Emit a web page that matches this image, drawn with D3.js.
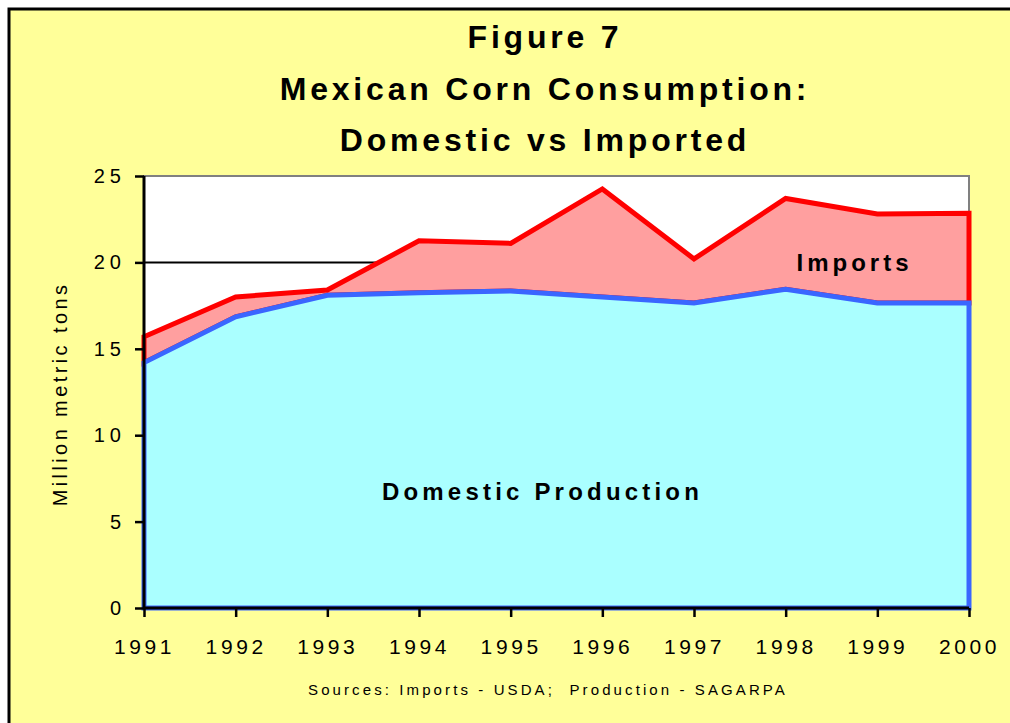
<!DOCTYPE html>
<html>
<head>
<meta charset="utf-8">
<script src="https://cdn.jsdelivr.net/npm/d3@7"></script>
<style>
  body { margin: 0; background: #fff; }
  svg { display: block; font-family: "Liberation Sans", Arial, sans-serif; }
</style>
</head>
<body>
<svg id="chart" width="1010" height="723"></svg>
<script>
const years = [1991, 1992, 1993, 1994, 1995, 1996, 1997, 1998, 1999, 2000];
// million metric tons
const domestic = [14.2, 16.85, 18.1, 18.25, 18.35, 18.0, 17.65, 18.45, 17.65, 17.65];
const imports  = [1.5, 1.15, 0.3, 3.0, 2.75, 6.25, 2.55, 5.25, 5.15, 5.2];
const yTicks = [0, 5, 10, 15, 20, 25];
const titleLines = ["Figure 7", "Mexican Corn Consumption:", "Domestic vs Imported"];

const svg = d3.select('#chart');
const W = 1010, H = 723;

// background frame
svg.append('rect')
  .attr('x', 9).attr('y', 9)
  .attr('width', W + 20).attr('height', H + 20)
  .attr('fill', '#FFFF99')
  .attr('stroke', '#000')
  .attr('stroke-width', 3);

const margin = { top: 176, right: 41, bottom: 115, left: 144 };
const chartWidth = W - margin.left - margin.right;
const chartHeight = H - margin.top - margin.bottom;

const g = svg.append('g')
  .attr('transform', `translate(${margin.left},${margin.top})`);

const x = d3.scalePoint()
  .domain(years)
  .range([0, chartWidth]);

const y = d3.scaleLinear()
  .domain([0, 25])
  .range([chartHeight, 0]);

// plot area
g.append('rect')
  .attr('width', chartWidth)
  .attr('height', chartHeight)
  .attr('fill', '#fff')
  .attr('stroke', '#808080')
  .attr('stroke-width', 2);

// gridlines
g.selectAll('.grid')
  .data(yTicks.filter(d => d > 0 && d < 25))
  .enter()
  .append('line')
  .attr('x1', 0).attr('x2', chartWidth)
  .attr('y1', d => y(d)).attr('y2', d => y(d))
  .attr('stroke', '#000')
  .attr('stroke-width', 2);

const rows = years.map((yr, i) => ({ year: yr, domestic: domestic[i], imports: imports[i] }));
const stack = d3.stack().keys(['domestic', 'imports']);
const series = stack(rows);

const area = d3.area()
  .x(d => x(d.data.year))
  .y0(d => y(d[0]))
  .y1(d => y(d[1]));

const fills = { domestic: '#AAFFFF', imports: '#FF9F9F' };
const strokes = { domestic: '#3A66FF', imports: '#FF0000' };

// draw imports first so the blue outline sits on top
[series[1], series[0]].forEach(s => {
  g.append('path')
    .datum(s)
    .attr('d', d => area(d) + 'Z')
    .attr('fill', fills[s.key])
    .attr('stroke', strokes[s.key])
    .attr('stroke-width', 5)
    .attr('stroke-linejoin', 'miter');
});

// axes
const xAxis = d3.axisBottom(x).tickSize(9).tickPadding(22).tickFormat(d => d);
const yAxis = d3.axisLeft(y).tickValues(yTicks).tickSize(9).tickPadding(10);

const gx = g.append('g')
  .attr('transform', `translate(0,${chartHeight})`)
  .call(xAxis);
gx.select('.domain').attr('d', `M0,0H${chartWidth}`).attr('stroke-width', 3);
gx.selectAll('.tick line').attr('stroke-width', 2.5);
gx.selectAll('.tick text')
  .attr('fill', '#000')
  .style('font-size', '21px')
  .style('letter-spacing', '3.6px');

const gy = g.append('g').call(yAxis);
gy.select('.domain').attr('d', `M0,${chartHeight}V0`).attr('stroke-width', 3);
gy.selectAll('.tick line').attr('stroke-width', 2.5);
gy.selectAll('.tick text')
  .attr('fill', '#000')
  .style('font-size', '20px')
  .style('letter-spacing', '5px')
  .attr('dx', '1px');

// in-chart labels
g.append('text')
  .attr('x', (x(1995) + x(1996)) / 2 - 14)
  .attr('y', y(5) - 22)
  .attr('text-anchor', 'middle')
  .style('font-size', '24px')
  .style('font-weight', 'bold')
  .style('letter-spacing', '4.2px')
  .text('Domestic Production');

g.append('text')
  .attr('x', (x(1998) + x(1999)) / 2 + 23)
  .attr('y', y(20) + 9)
  .attr('text-anchor', 'middle')
  .style('font-size', '24px')
  .style('font-weight', 'bold')
  .style('letter-spacing', '4px')
  .text('Imports');

// axis label
svg.append('text')
  .attr('transform', `translate(67,${margin.top + chartHeight / 2 + 2}) rotate(-90)`)
  .attr('text-anchor', 'middle')
  .style('font-size', '20px')
  .style('letter-spacing', '3.4px')
  .text('Million metric tons');

// title
svg.selectAll('.title')
  .data(titleLines)
  .enter()
  .append('text')
  .attr('class', 'title')
  .attr('x', 545)
  .attr('y', (d, i) => 48 + i * 51.5)
  .attr('text-anchor', 'middle')
  .style('font-size', '32px')
  .style('font-weight', 'bold')
  .style('letter-spacing', '3.8px')
  .text(d => d);

// sources
svg.append('text')
  .attr('x', 548)
  .attr('y', 695)
  .attr('text-anchor', 'middle')
  .style('font-size', '15px')
  .style('letter-spacing', '3.1px')
  .attr('xml:space', 'preserve')
  .text('Sources: Imports - USDA;  Production - SAGARPA');
</script>
</body>
</html>
